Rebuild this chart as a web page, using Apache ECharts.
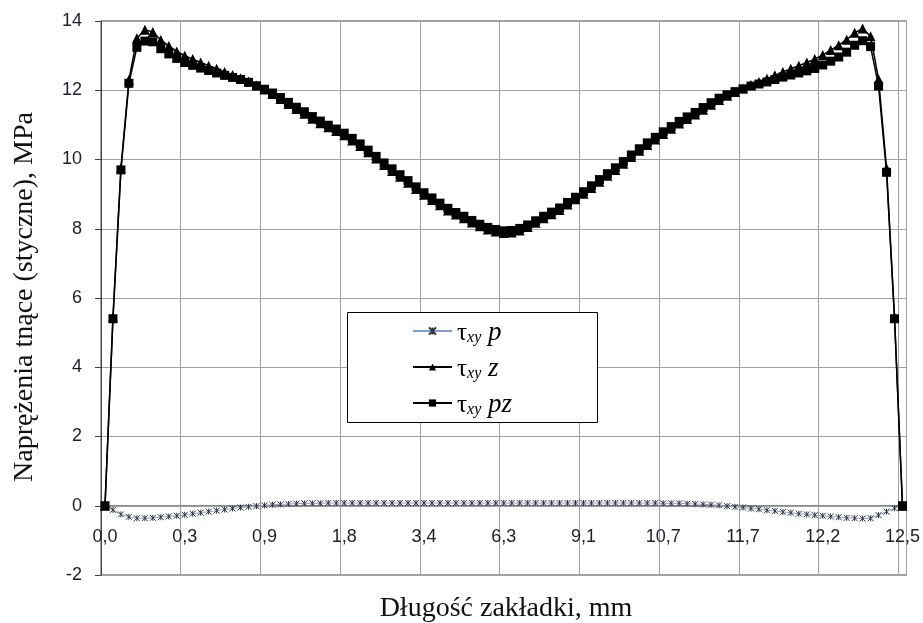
<!DOCTYPE html>
<html>
<head>
<meta charset="utf-8">
<script src="https://cdn.jsdelivr.net/npm/echarts@6/dist/echarts.min.js"></script>
<style>html,body{margin:0;padding:0;background:#fff}#c{width:923px;height:623px}</style>
</head>
<body>
<div id="c"></div>
<script>
// ---- data ----
const tickLabels = ['0,0','0,3','0,9','1,8','3,4','6,3','9,1','10,7','11,7','12,2','12,5'];
const categories = Array.from({length: 101}, (_, i) => String(i)); // point index along the overlap
const seriesNames = ['τxy p', 'τxy z', 'τxy pz'];
const legendSuffix = ['p', 'z', 'pz'];

const tauP = [0, -0.12, -0.25, -0.32, -0.36, -0.36, -0.35, -0.33, -0.31, -0.29,
 -0.26, -0.23, -0.2, -0.17, -0.14, -0.11, -0.08, -0.05, -0.03, -0.01,
 0.01, 0.03, 0.04, 0.05, 0.06, 0.07, 0.07, 0.07, 0.08, 0.08,
 0.08, 0.08, 0.08, 0.08, 0.08, 0.08, 0.08, 0.08, 0.08, 0.08,
 0.08, 0.08, 0.08, 0.08, 0.08, 0.08, 0.08, 0.08, 0.08, 0.08,
 0.08, 0.08, 0.08, 0.08, 0.08, 0.08, 0.08, 0.08, 0.08, 0.08,
 0.08, 0.08, 0.08, 0.08, 0.08, 0.08, 0.08, 0.08, 0.08, 0.08,
 0.07, 0.07, 0.07, 0.06, 0.05, 0.04, 0.03, 0.01, -0.01, -0.03,
 -0.05, -0.08, -0.1, -0.13, -0.15, -0.18, -0.2, -0.23, -0.25, -0.27,
 -0.29, -0.31, -0.33, -0.35, -0.36, -0.37, -0.36, -0.27, -0.17, -0.07,
 0];

const tauZ = [0, 5.45, 9.75, 12.3, 13.5, 13.75, 13.68, 13.45, 13.28, 13.12,
 13.0, 12.9, 12.8, 12.71, 12.62, 12.53, 12.44, 12.35, 12.25, 12.14,
 12.02, 11.89, 11.75, 11.6, 11.46, 11.32, 11.18, 11.05, 10.93, 10.82,
 10.7, 10.55, 10.39, 10.21, 10.03, 9.84, 9.67, 9.5, 9.33, 9.15,
 8.98, 8.83, 8.68, 8.53, 8.41, 8.3, 8.18, 8.07, 7.98, 7.92,
 7.88, 7.89, 7.95, 8.05, 8.17, 8.3, 8.42, 8.54, 8.7, 8.85,
 9.01, 9.18, 9.36, 9.53, 9.7, 9.88, 10.07, 10.25, 10.42, 10.58,
 10.74, 10.89, 11.04, 11.17, 11.3, 11.44, 11.58, 11.72, 11.84, 11.95,
 12.05, 12.15, 12.24, 12.33, 12.43, 12.53, 12.62, 12.71, 12.8, 12.9,
 13.02, 13.16, 13.3, 13.46, 13.66, 13.78, 13.56, 12.32, 9.75, 5.45,
 0];

const tauPZ = [0, 5.4, 9.7, 12.2, 13.24, 13.42, 13.4, 13.2, 13.05, 12.92,
 12.8, 12.72, 12.64, 12.57, 12.5, 12.43, 12.37, 12.31, 12.23, 12.13,
 12.03, 11.92, 11.79, 11.65, 11.51, 11.38, 11.24, 11.11, 10.99, 10.88,
 10.76, 10.61, 10.45, 10.27, 10.09, 9.9, 9.73, 9.56, 9.39, 9.21,
 9.04, 8.89, 8.74, 8.59, 8.47, 8.36, 8.24, 8.13, 8.04, 7.98,
 7.94, 7.95, 8.01, 8.11, 8.23, 8.36, 8.48, 8.6, 8.76, 8.91,
 9.07, 9.24, 9.42, 9.59, 9.76, 9.94, 10.13, 10.31, 10.48, 10.64,
 10.8, 10.95, 11.1, 11.23, 11.36, 11.5, 11.64, 11.77, 11.87, 11.96,
 12.04, 12.12, 12.18, 12.24, 12.31, 12.38, 12.44, 12.5, 12.56, 12.63,
 12.73, 12.84, 12.96, 13.1, 13.3, 13.43, 13.26, 12.12, 9.63, 5.4,
 0];

const yTitle = 'Naprężenia tnące (styczne), MPa';
const xTitle = 'Długość zakładki, mm';

// ---- chart ----
const chart = echarts.init(document.getElementById('c'), null, {renderer: 'canvas'});
const starPath = 'path://M0,0L10,10M10,0L0,10M5,0L5,10';
const serifFont = 'Liberation Serif, Times New Roman, serif';
const sansFont = 'Liberation Sans, Arial, sans-serif';

const option = {
  animation: false,
  backgroundColor: '#fff',
  grid: {left: 101, right: 16, top: 21, bottom: 48, show: true, borderColor: '#444', borderWidth: 1, backgroundColor: 'transparent'},
  xAxis: {
    type: 'category',
    data: categories,
    boundaryGap: true,
    offset: -69.3,
    axisLine: {show: true, onZero: false, lineStyle: {color: '#8a8a8a', width: 1}},
    axisTick: {show: false},
    axisLabel: {
      interval: 9,
      margin: 22,
      color: '#1e1e2a',
      fontFamily: sansFont,
      fontSize: 18,
      formatter: (v, i) => (i % 10 === 0 ? tickLabels[i / 10] : '')
    },
    splitLine: {show: true, interval: 9, lineStyle: {color: '#a0a0a0', width: 1}}
  },
  yAxis: {
    type: 'value',
    min: -2, max: 14, interval: 2,
    axisLine: {show: true, lineStyle: {color: '#444', width: 1}},
    axisTick: {show: true, length: 6, lineStyle: {color: '#444'}},
    axisLabel: {margin: 19, color: '#1e1e2a', fontFamily: sansFont, fontSize: 18},
    splitLine: {show: true, lineStyle: {color: '#a0a0a0', width: 1}}
  },
  legend: {
    orient: 'vertical',
    left: 412, top: 319,
    padding: 0,
    itemWidth: 39, itemHeight: 9,
    itemGap: 9,
    z: 6,
    data: seriesNames,
    formatter: function (name) {
      const k = seriesNames.indexOf(name);
      return '{g|τ}{s|xy}{v| ' + legendSuffix[k] + '}';
    },
    textStyle: {
      color: '#000',
      rich: {
        g: {fontFamily: serifFont, fontSize: 25, lineHeight: 30, verticalAlign: 'bottom', color: '#000'},
        s: {fontFamily: serifFont, fontSize: 16, fontStyle: 'italic', lineHeight: 30, verticalAlign: 'bottom', color: '#000'},
        v: {fontFamily: serifFont, fontSize: 27, fontStyle: 'italic', lineHeight: 30, verticalAlign: 'bottom', color: '#000'}
      }
    }
  },
  graphic: [
    {type: 'rect', z: 5, shape: {x: 347.5, y: 312.5, width: 250, height: 110},
     style: {fill: '#fff', stroke: '#000', lineWidth: 1}},
    {type: 'text', x: 506, y: 609, z: 5,
     style: {text: xTitle, font: '28px ' + serifFont, fill: '#111', align: 'center', verticalAlign: 'middle'}},
    {type: 'text', x: 25, y: 297, rotation: Math.PI / 2, z: 5,
     style: {text: yTitle, font: '28px ' + serifFont, fill: '#111', align: 'center', verticalAlign: 'middle'}}
  ],
  series: [
    {
      name: seriesNames[0], type: 'line', data: tauP,
      symbol: starPath, symbolSize: 6, showAllSymbol: true,
      lineStyle: {color: '#7f9fd3', width: 1},
      itemStyle: {color: 'rgba(255,255,255,0)', borderColor: '#333', borderWidth: 1}
    },
    {
      name: seriesNames[1], type: 'line', data: tauZ,
      symbol: 'triangle', symbolSize: 10, showAllSymbol: true,
      lineStyle: {color: '#000', width: 1.5},
      itemStyle: {color: '#000'}
    },
    {
      name: seriesNames[2], type: 'line', data: tauPZ,
      symbol: 'rect', symbolSize: 9, showAllSymbol: true,
      lineStyle: {color: '#000', width: 1.5},
      itemStyle: {color: '#000'}
    }
  ]
};
chart.setOption(option);
</script>
</body>
</html>
